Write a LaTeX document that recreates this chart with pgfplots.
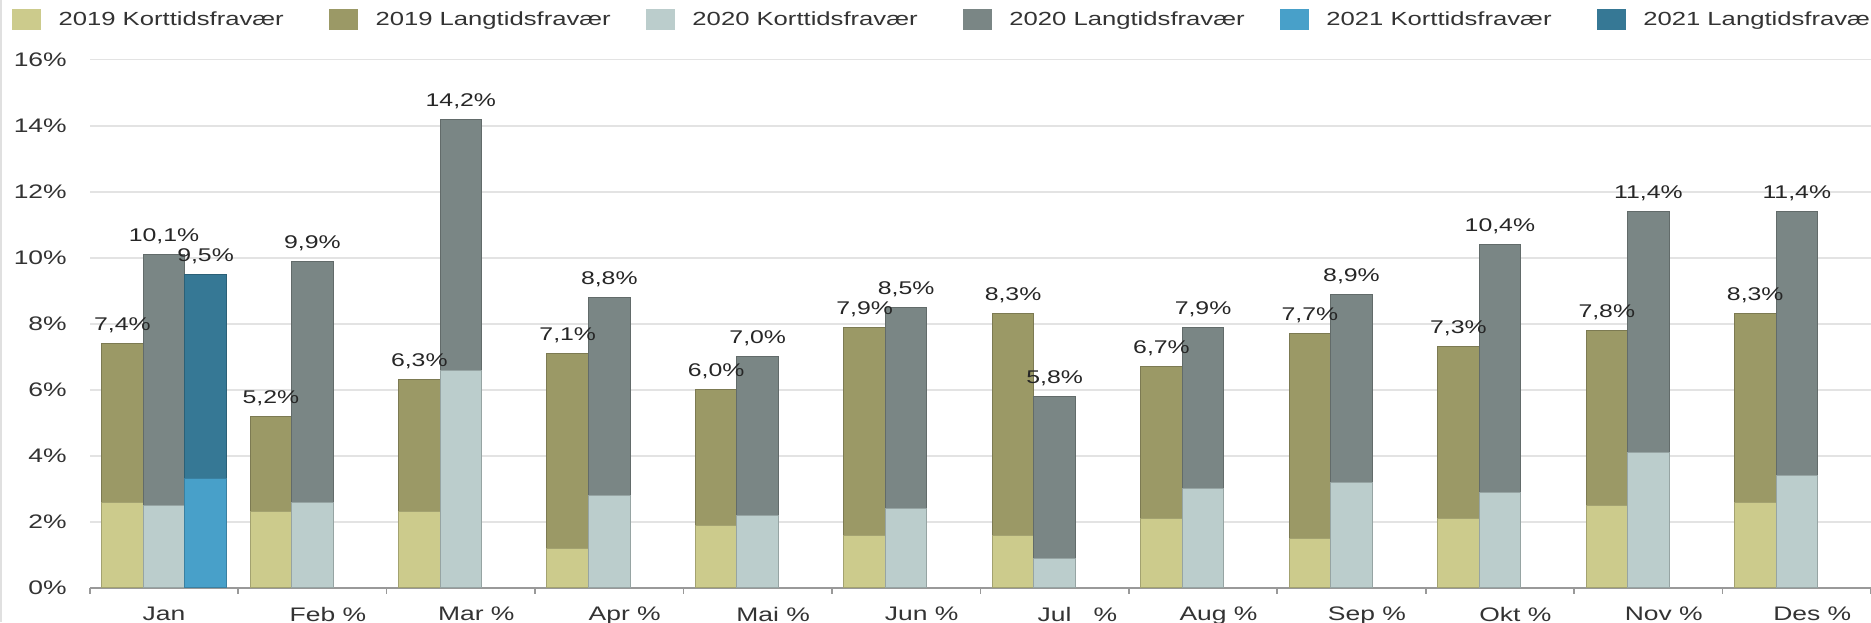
\documentclass[border=0pt]{standalone}
\usepackage{fontspec}
\setmainfont{Liberation Sans}[FakeStretch=1.35]
\usepackage{pgfplots}
\pgfplotsset{compat=1.18}
\definecolor{cKa}{HTML}{CCCB8C}
\definecolor{cLa}{HTML}{9B9966}
\definecolor{cKb}{HTML}{BBCDCC}
\definecolor{cLb}{HTML}{7A8685}
\definecolor{cKc}{HTML}{48A0C9}
\definecolor{cLc}{HTML}{367895}
\definecolor{ink}{HTML}{333333}
\definecolor{gridc}{HTML}{E3E3E3}
\pgfplotsset{
  bar19/.style={ybar, bar width=0.28, bar shift=-0.28, line width=0.5pt},
  bar20/.style={ybar, bar width=0.28, bar shift=0, line width=0.5pt},
  bar21/.style={ybar, bar width=0.28, bar shift=0.28, line width=0.5pt},
  totlab/.style={nodes near coords={\pgfmathprintnumber[use comma, fixed, fixed zerofill, precision=1, assume math mode=true]{\pgfplotspointmeta}\%},
    every node near coord/.append style={font=\fontsize{9.2}{10}\selectfont, text=black!85, anchor=base, yshift=6.5pt, xshift=#1}},
}
\begin{document}
\begin{tikzpicture}
\begin{axis}[
  scale only axis, width=890.75pt, height=264.15pt,
  xmin=-0.5, xmax=11.5, ymin=0, ymax=16,
  axis lines*=left,
  y axis line style={draw=none},
  x axis line style={black!40, line width=0.8pt},
  xtick={0,...,11},
  xticklabels={Jan, Feb\rlap{ \%}, Mar\rlap{ \%}, Apr\rlap{ \%}, Mai\rlap{ \%}, Jun\rlap{ \%}, Jul\rlap{\ \ \ \%}, Aug\rlap{ \%}, Sep\rlap{ \%}, Okt\rlap{ \%}, Nov\rlap{ \%}, Des\rlap{ \%}},
  minor xtick={-0.5,0.5,...,11.5},
  major tick length=0pt, minor tick length=3pt, tick align=outside,
  minor tick style={black!40, line width=0.8pt},
  ytick={0,2,...,16},
  yticklabel={\pgfmathprintnumber[assume math mode=true]{\tick}\%},
  yticklabel style={font=\fontsize{9.8}{11}\selectfont, text=ink, xshift=-8pt},
  xticklabel style={font=\fontsize{9.8}{11}\selectfont, text=ink, yshift=-6pt},
  ymajorgrids, major grid style={gridc, line width=0.8pt},
  legend columns=6,
  legend style={draw=none, fill=none, at={(0,1)}, anchor=west, xshift=-42pt, yshift=20pt,
    font=\fontsize{9.5}{11}\selectfont, text=ink,
    /tikz/every odd column/.append style={column sep=7pt},
    /tikz/every even column/.append style={column sep=3.3pt}},
  legend image code/.code={\draw[#1, line width=0.4pt] (0pt,-5pt) rectangle (13.8pt,5pt);},
]
\addlegendimage{fill=cKa, draw=cKa}
\addlegendentry{\makebox[130pt][l]{2019 Korttidsfravær}}
\addlegendimage{fill=cLa, draw=cLa}
\addlegendentry{\makebox[130pt][l]{2019 Langtidsfravær}}
\addlegendimage{fill=cKb, draw=cKb}
\addlegendentry{\makebox[130pt][l]{2020 Korttidsfravær}}
\addlegendimage{fill=cLb, draw=cLb}
\addlegendentry{\makebox[130pt][l]{2020 Langtidsfravær}}
\addlegendimage{fill=cKc, draw=cKc}
\addlegendentry{\makebox[130pt][l]{2021 Korttidsfravær}}
\addlegendimage{fill=cLc, draw=cLc}
\addlegendentry{\makebox[130pt][l]{2021 Langtidsfravær}}
% 2019: total (langtid on top), then korttid
\addplot[bar19, fill=cLa, draw=cLa!80!black, totlab=-20.78pt, forget plot] coordinates {
  (0,7.4) (1,5.2) (2,6.3) (3,7.1) (4,6.0) (5,7.9) (6,8.3) (7,6.7) (8,7.7) (9,7.3) (10,7.8) (11,8.3)};
\addplot[bar19, fill=cKa, draw=cKa!80!black, forget plot] coordinates {
  (0,2.6) (1,2.3) (2,2.3) (3,1.2) (4,1.9) (5,1.6) (6,1.6) (7,2.1) (8,1.5) (9,2.1) (10,2.5) (11,2.6)};
% 2020
\addplot[bar20, fill=cLb, draw=cLb!80!black, totlab=0pt, forget plot] coordinates {
  (0,10.1) (1,9.9) (2,14.2) (3,8.8) (4,7.0) (5,8.5) (6,5.8) (7,7.9) (8,8.9) (9,10.4) (10,11.4) (11,11.4)};
\addplot[bar20, fill=cKb, draw=cKb!80!black, forget plot] coordinates {
  (0,2.5) (1,2.6) (2,6.6) (3,2.8) (4,2.2) (5,2.4) (6,0.9) (7,3.0) (8,3.2) (9,2.9) (10,4.1) (11,3.4)};
% 2021
\addplot[bar21, fill=cLc, draw=cLc!80!black, totlab=20.78pt, forget plot] coordinates {(0,9.5)};
\addplot[bar21, fill=cKc, draw=cKc!80!black, forget plot] coordinates {(0,3.3)};
\end{axis}
\pgfresetboundingbox
\path[use as bounding box] ([xshift=-44.9pt,yshift=-17.2pt]current axis.south west) rectangle ([yshift=29.85pt]current axis.north east);
\draw[black!12, line width=1.2pt] ([xshift=-44.3pt,yshift=-17.2pt]current axis.south west) -- ([xshift=-44.3pt,yshift=29.85pt]current axis.north west);
\end{tikzpicture}
\end{document}
